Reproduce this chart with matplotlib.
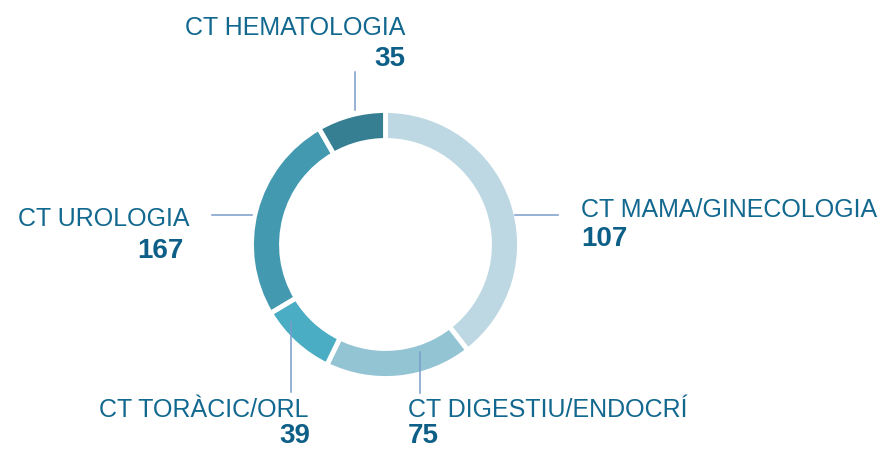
import matplotlib
matplotlib.use("Agg")
import matplotlib.pyplot as plt

# Data (slice sizes as drawn in the reference; printed labels as shown)
categories = ["CT MAMA/GINECOLOGIA", "CT DIGESTIU/ENDOCRÍ", "CT TORÀCIC/ORL", "CT UROLOGIA", "CT HEMATOLOGIA"]
slice_values = [167, 75, 39, 107, 35]
label_values = [107, 75, 39, 167, 35]
colors = ["#BDD8E3", "#93C4D4", "#4AADC4", "#4399AF", "#367F93"]

W, H = 886, 450
fig = plt.figure(figsize=(W / 100, H / 100), dpi=100)
ax = fig.add_axes([0, 0, 1, 1])

cx, cy, R = 385.5, H - 244.5, 134
ax.pie(slice_values, colors=colors, startangle=90, counterclock=False,
       center=(cx, cy), radius=R,
       wedgeprops=dict(width=30, edgecolor="white", linewidth=3.5))
ax.set_xlim(0, W)
ax.set_ylim(0, H)
ax.set_aspect("auto")
ax.axis("off")

txt_color = "#12688F"
num_color = "#0E5F87"
line_color = "#7A9CCB"
font = "Liberation Sans"

def Y(y):
    return H - y

# label specs: (name x, name baseline, ha, number x, number y, number va)
layout = {
    "CT MAMA/GINECOLOGIA": (581, 217, "left", 581, 246, "baseline"),
    "CT DIGESTIU/ENDOCRÍ": (408, 417, "left", 408, 449, "bottom"),
    "CT TORÀCIC/ORL": (309, 417, "right", 310, 449, "bottom"),
    "CT UROLOGIA": (190, 226, "right", 184, 258, "baseline"),
    "CT HEMATOLOGIA": (405, 35, "right", 405, 66, "baseline"),
}
leaders = {
    "CT MAMA/GINECOLOGIA": ((515, 558), (215, 215)),
    "CT DIGESTIU/ENDOCRÍ": ((420, 420), (352, 393)),
    "CT TORÀCIC/ORL": ((291, 291), (322, 392)),
    "CT UROLOGIA": ((212, 252), (215, 215)),
    "CT HEMATOLOGIA": ((355, 355), (72, 110)),
}

for name, val in zip(categories, label_values):
    nx, ny, ha, vx, vy, vva = layout[name]
    ax.text(nx, Y(ny), name, ha=ha, va="baseline", fontsize=18,
            color=txt_color, family=font)
    ax.text(vx, Y(vy), str(val), ha=ha, va=vva, fontsize=20,
            fontweight="bold", color=num_color, family=font)
    (x0, x1), (y0, y1) = leaders[name]
    ax.plot([x0, x1], [Y(y0), Y(y1)], color=line_color, lw=1.1)

fig.savefig("out.png", dpi=100, facecolor="white")
